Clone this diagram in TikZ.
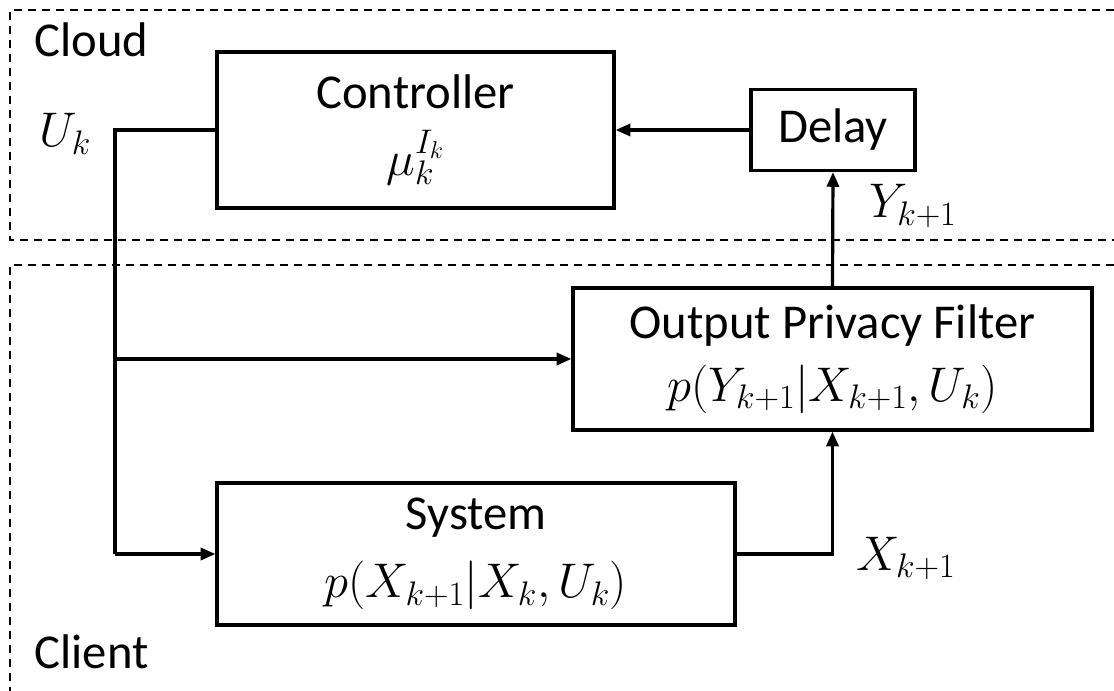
\RequirePackage{fix-cm}
\documentclass[tikz,border=0pt]{standalone}
\usepackage{fontspec}
\setmainfont{Carlito}
\usetikzlibrary{arrows.meta}

\tikzset{every picture/.style={line width=2.4pt}}
\tikzset{
  blockbox/.style={draw, align=center, inner sep=0pt, font=\fontsize{36.5}{46}\selectfont},
  flow/.style={-{Triangle[length=11pt,width=9pt]}},
  zone/.style={line width=1.9pt, dash pattern=on 6pt off 4.5pt},
  tag/.style={anchor=base west, inner sep=0pt, font=\fontsize{36.5}{44}\selectfont}
}

\begin{document}
\begin{tikzpicture}[x=0.75pt,y=0.75pt,yscale=-1,xscale=1]
\useasboundingbox (0,0) rectangle (1114,691);

%Dashed zones
\draw [zone] (1114,10) -- (10,10) -- (10,240) -- (1114,240) ;
\draw [zone] (1114,265) -- (10,265) -- (10,691) ;

%Blocks
\node [blockbox, minimum width=297.75pt, minimum height=117pt] (ctrl) at (415.5,130) {Controller\\[4pt]$\mu_k^{I_k}$};
\node [blockbox, minimum width=123pt, minimum height=60.75pt] (delay) at (833,130) {Delay};
\node [blockbox, minimum width=389.25pt, minimum height=106.5pt] (opf) at (832.5,359) {Output Privacy Filter\\[1pt]$p(Y_{k+1}|X_{k+1},U_k)$};
\node [blockbox, minimum width=388.5pt, minimum height=106.5pt] (sys) at (476,554) {System\\[5pt]$p(X_{k+1}|X_k,U_k)$};

%Corners of the input line
\coordinate (utop) at (115,130);
\coordinate (ubot) at (115,554);

%Connectors
\draw [flow] (delay.west) -- (ctrl.east) ;
\draw [flow] (opf.north) -- (delay.south) ;
\draw [flow] (sys.east) -| (opf.south) ;
\draw (ctrl.west) -- (utop) -- (ubot) ;
\draw [flow] (ubot) -- (sys.west) ;
\draw [flow] (utop |- opf.west) -- (opf.west) ;

% Text Node
\node [tag] (cloudlbl) at (33,57) {Cloud};
% Text Node
\node [tag] (clientlbl) at (33,668) {Client};
% Text Node
\node [tag] (ulbl) at (38,147) {$U_k$};
% Text Node
\node [tag] (ylbl) at (868,218) {$Y_{k+1}$};
% Text Node
\node [tag] (xlbl) at (855,570) {$X_{k+1}$};

\end{tikzpicture}
\end{document}
